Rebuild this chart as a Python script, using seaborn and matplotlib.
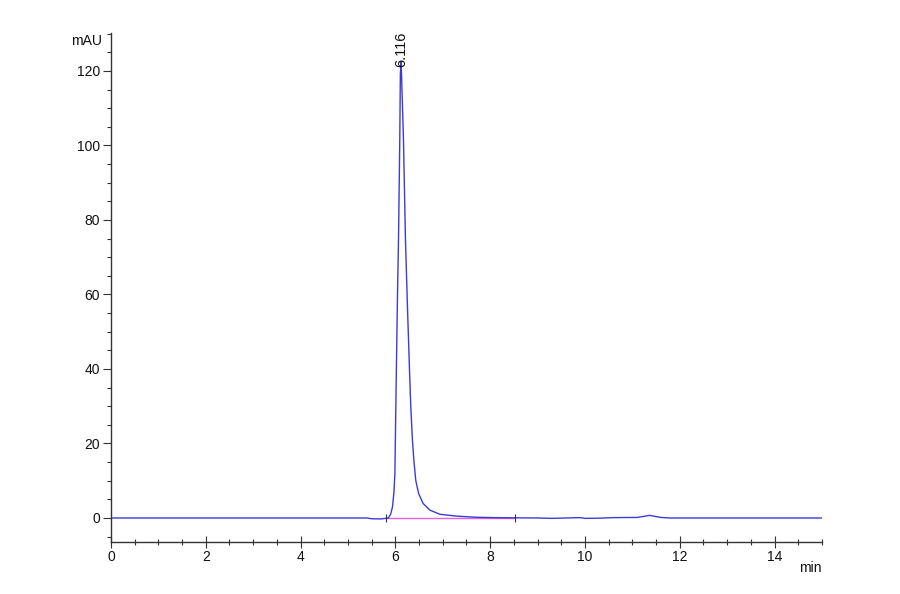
import matplotlib
matplotlib.use("Agg")
import matplotlib.pyplot as plt
from matplotlib.ticker import MultipleLocator
import seaborn as sns
import pandas as pd

# --- data ---
time_min = [0.0, 5.4, 5.5, 5.7, 5.85, 5.90, 5.94, 5.97, 5.99, 6.02, 6.045, 6.066,
            6.093, 6.105, 6.119, 6.13, 6.171, 6.213, 6.255, 6.30, 6.325, 6.36,
            6.39, 6.43, 6.49, 6.585, 6.73, 6.94, 7.29, 7.71, 8.0, 8.5, 9.0, 9.3,
            9.9, 10.0, 10.3, 10.6, 11.1, 11.25, 11.36, 11.47, 11.6, 11.8, 15.0]
signal_mau = [0.0, 0.0, -0.2, -0.25, 0.0, 1.0, 3.0, 7.0, 12.0, 39.0, 60.0, 74.6,
              101.5, 119.0, 122.5, 119.0, 101.5, 74.6, 56.7, 39.0, 29.9, 20.9,
              15.5, 10.1, 6.6, 3.9, 2.1, 1.0, 0.5, 0.2, 0.12, 0.05, 0.0, -0.1,
              0.1, -0.1, -0.05, 0.1, 0.15, 0.45, 0.7, 0.45, 0.15, 0.0, 0.0]
baseline_time = [5.80, 8.52]
baseline_val = [0.0, 0.0]
peak_label = "6.116"
peak_time = 6.116
peak_height = 122.5

df = pd.DataFrame({"t": time_min, "y": signal_mau})
bl = pd.DataFrame({"t": baseline_time, "y": baseline_val})

sns.set_style("ticks")
plt.rcParams["font.family"] = ["Liberation Sans", "DejaVu Sans"]

fig = plt.figure(figsize=(9, 5.94), dpi=100)
ax = fig.add_axes([0.1233, 0.0875, 0.79, 0.857])

sns.lineplot(data=bl, x="t", y="y", ax=ax, color="#e060e0", linewidth=1.0)
sns.lineplot(data=df, x="t", y="y", ax=ax, color="#3b3bd6", linewidth=1.0)
ax.vlines(baseline_time, -1.2, 1.2, color="#333333", linewidth=0.8)

ax.text(peak_time, peak_height - 1.5, peak_label, rotation=90, ha="center",
        va="bottom", fontsize=10.5, color="#111111")

ax.set_xlim(0, 15)
ax.set_ylim(-6.45, 130.2)
ax.xaxis.set_major_locator(MultipleLocator(2))
ax.xaxis.set_minor_locator(MultipleLocator(0.5))
ax.yaxis.set_major_locator(MultipleLocator(20))
ax.yaxis.set_minor_locator(MultipleLocator(5))
ax.set_xlabel("")
ax.set_ylabel("")

sns.despine(ax=ax)
for s in ("left", "bottom"):
    ax.spines[s].set_color("#333333")
    ax.spines[s].set_linewidth(1.0)

ax.tick_params(axis="x", which="major", direction="inout", length=8, width=0.8,
               colors="#333333", labelsize=10, labelcolor="#111111", pad=2)
ax.tick_params(axis="x", which="minor", direction="inout", length=4, width=0.8,
               colors="#333333")
ax.tick_params(axis="y", which="major", direction="out", length=6, width=0.8,
               colors="#333333", labelsize=10, labelcolor="#111111", pad=2)
ax.tick_params(axis="y", which="minor", direction="out", length=3, width=0.8,
               colors="#333333")

ax.text(-0.012, 0.985, "mAU", transform=ax.transAxes, ha="right", va="center",
        fontsize=10, color="#111111")
ax.text(1.0, -0.052, "min", transform=ax.transAxes, ha="right", va="center",
        fontsize=10, color="#111111")

fig.savefig("out.png", dpi=100, facecolor="white")
